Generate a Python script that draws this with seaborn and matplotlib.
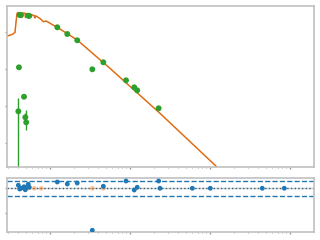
import numpy as np
import pandas as pd
import matplotlib
matplotlib.use("Agg")
import matplotlib.pyplot as plt
import seaborn as sns
from matplotlib.ticker import LogLocator, NullFormatter, NullLocator, FixedLocator

sns.set_style("white")

# ---- model spectrum (wavelength [um], flux) ----
model_wave = [0.292, 0.335, 0.365, 0.376, 0.387, 0.398, 0.409, 0.416, 0.434, 0.447,
              0.453, 0.487, 0.494, 0.501, 0.562, 0.631, 0.649, 0.659, 0.75, 0.829,
              0.891, 0.944, 1.059, 1.234, 1.645, 2.19, 3.16, 5.62, 23.7, 121.0, 2370.0]
model_flux = [7.8e-12, 8.55e-12, 9.69e-12, 1.86e-11, 3.16e-11, 3.37e-11, 2.70e-11, 3.37e-11,
              3.27e-11, 2.54e-11, 3.27e-11, 3.2e-11, 2.47e-11, 3.16e-11, 3.01e-11, 2.79e-11,
              2.39e-11, 2.74e-11, 2.32e-11, 1.89e-11, 1.98e-11, 1.86e-11, 1.6e-11, 1.34e-11,
              9.0e-12, 6.08e-12, 3.06e-12, 1.04e-12, 6.35e-14, 2.29e-15, 5.4e-18]

# ---- photometry (top panel) ----
phot_wave = [0.418, 0.434, 0.535, 0.551, 0.402, 0.409, 0.473, 0.491, 0.504,
             1.234, 1.645, 2.19, 3.38, 4.64, 8.91, 11.3, 12.3, 22.8]
phot_flux = [2.88e-11, 2.85e-11, 2.75e-11, 2.72e-11, 7.19e-14, 1.11e-12, 1.78e-13, 4.95e-14, 3.62e-14,
             1.34e-11, 8.83e-12, 5.97e-12, 9.82e-13, 1.52e-12, 4.95e-13, 3.2e-13, 2.65e-13, 8.67e-14]
phot_err_lo = [0, 0, 0, 0, 9.2e-14, 0, 0, 0.8e-14, 1.38e-14,
               0, 0, 0, 0, 0, 0, 0, 0, 0]
phot_err_hi = [0, 0, 0, 0, 9.2e-14, 0, 0, 1.4e-14, 4.18e-14,
               0, 0, 0, 0, 0, 0, 0, 0, 0]

# ---- residuals (bottom panel) ----
res_wave = [0.402, 0.418, 0.434, 0.473, 0.491, 0.501, 0.535, 0.551,
            1.234, 1.645, 2.19, 3.38, 4.64, 8.91, 11.3, 12.3, 22.8, 23.7,
            60.1, 100.9, 450.0, 849.0]
res_val = [1.2, -0.3, 0.0, 0.6, -0.6, 0.2, 1.6, 0.4,
           2.5, 1.7, 2.1, -16.8, 0.8, 2.9, -0.7, 0.4, 2.9, 0.0,
           0.0, 0.0, 0.0, 0.0]
excl_wave = [0.520, 0.636, 0.778, 3.38, 4.64]
excl_val = [0.0, 0.0, 0.0, 0.0, 0.0]
sigma_band = 3.0

fig = plt.figure(figsize=(3.2, 2.4), dpi=100)
ax = fig.add_axes([0.0228, 0.3042, 0.9569, 0.6721])
axr = fig.add_axes([0.0228, 0.0333, 0.9569, 0.225])

mdf = pd.DataFrame({"wave": model_wave, "flux": model_flux})
sns.lineplot(data=mdf, x="wave", y="flux", ax=ax, color="#ff7f0e", lw=1.1,
             sort=False, estimator=None)
sns.lineplot(data=mdf, x="wave", y="flux", ax=ax, color="#8c564b", lw=0.6, alpha=0.5,
             sort=False, estimator=None)

pdf = pd.DataFrame({"wave": phot_wave, "flux": phot_flux})
ax.errorbar(phot_wave, phot_flux, yerr=[phot_err_lo, phot_err_hi], fmt="none",
            ecolor="#2ca02c", elinewidth=1.0, capsize=0)
sns.scatterplot(data=pdf, x="wave", y="flux", ax=ax, color="#2ca02c", s=18,
                edgecolor="none", zorder=5)

ax.set_xscale("log")
ax.set_yscale("log")
ax.set_xlim(0.2925, 1967)
ax.set_ylim(2.25e-15, 5.14e-11)

rdf = pd.DataFrame({"wave": res_wave, "res": res_val})
edf = pd.DataFrame({"wave": excl_wave, "res": excl_val})
axr.axhline(0, color="#1f77b4", alpha=0.3, lw=1.0)
axr.axhline(0, color="#555555", ls=":", lw=1.0)
axr.axhline(sigma_band, color="#1f77b4", ls="--", lw=1.0)
axr.axhline(-sigma_band, color="#1f77b4", ls="--", lw=1.0)
sns.scatterplot(data=edf, x="wave", y="res", ax=axr, color="#ff7f0e", alpha=0.4, s=12,
                edgecolor="none", zorder=4)
sns.scatterplot(data=rdf, x="wave", y="res", ax=axr, color="#1f77b4", s=12,
                edgecolor="none", zorder=5)
axr.set_xscale("log")
axr.set_xlim(0.2925, 1967)
axr.set_ylim(-17.5, 4.1)
axr.yaxis.set_major_locator(FixedLocator([-10, 0]))

for a in (ax, axr):
    a.set_xlabel("")
    a.set_ylabel("")
    a.xaxis.set_major_locator(LogLocator(base=10))
    a.xaxis.set_minor_locator(LogLocator(base=10, subs=np.arange(2, 10)))
    a.xaxis.set_major_formatter(NullFormatter())
    a.xaxis.set_minor_formatter(NullFormatter())
    a.yaxis.set_major_formatter(NullFormatter())
    a.yaxis.set_minor_formatter(NullFormatter())
    a.yaxis.set_minor_locator(NullLocator())
    a.tick_params(which="major", direction="out", length=1.5, width=1.0, color="#999999",
                  bottom=True, left=True, top=False, right=False)
    a.tick_params(which="minor", direction="out", length=1.0, width=0.8, color="#aaaaaa",
                  bottom=True)
    for s in a.spines.values():
        s.set_color("#c0c0c0")
        s.set_linewidth(1.2)

ax.yaxis.set_major_locator(LogLocator(base=10))

fig.savefig("out.png", dpi=100)
